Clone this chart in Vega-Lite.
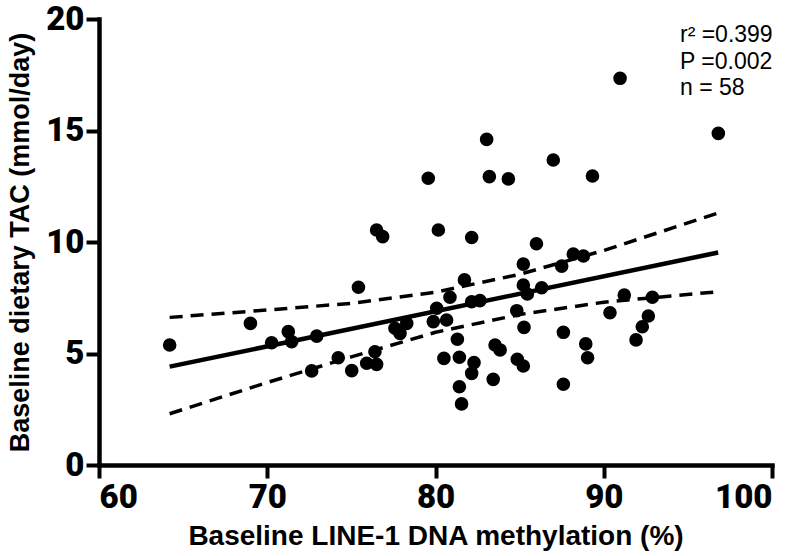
{
  "$schema": "https://vega.github.io/schema/vega-lite/v6.json",
  "width": 673,
  "height": 446,
  "autosize": {"type": "none"},
  "padding": {"left": 99, "top": 19, "right": 28, "bottom": 91},
  "background": "white",
  "config": {
    "view": {"stroke": null},
    "font": "Liberation Sans",
    "axis": {
      "grid": false,
      "domainColor": "black",
      "domainWidth": 4.5,
      "domainCap": "square",
      "tickColor": "black",
      "tickWidth": 4,
      "tickSize": 13,
      "labelColor": "black",
      "titleColor": "black"
    }
  },
  "datasets": {
    "points": [
      {"x": 64.2, "y": 5.38}, {"x": 69.0, "y": 6.35}, {"x": 70.26, "y": 5.48}, {"x": 71.25, "y": 5.98},
      {"x": 71.45, "y": 5.53}, {"x": 72.94, "y": 5.78}, {"x": 72.64, "y": 4.22}, {"x": 74.22, "y": 4.81},
      {"x": 75.02, "y": 4.23}, {"x": 75.42, "y": 7.97}, {"x": 75.91, "y": 4.56}, {"x": 76.4, "y": 5.08},
      {"x": 76.5, "y": 4.51}, {"x": 76.5, "y": 10.54}, {"x": 76.86, "y": 10.24}, {"x": 77.59, "y": 6.13},
      {"x": 77.89, "y": 5.9}, {"x": 78.29, "y": 6.35},
      {"x": 90.97, "y": 17.34}, {"x": 96.81, "y": 14.87}, {"x": 83.04, "y": 14.6}, {"x": 79.57, "y": 12.86},
      {"x": 83.2, "y": 12.93}, {"x": 84.33, "y": 12.83}, {"x": 87.0, "y": 13.68}, {"x": 89.33, "y": 12.96},
      {"x": 80.17, "y": 10.54}, {"x": 91.22, "y": 7.62}, {"x": 92.89, "y": 7.52}, {"x": 92.65, "y": 6.68},
      {"x": 92.29, "y": 6.2}, {"x": 91.92, "y": 5.61},
      {"x": 82.15, "y": 10.2}, {"x": 86.0, "y": 9.92}, {"x": 88.19, "y": 9.46}, {"x": 88.79, "y": 9.37},
      {"x": 87.5, "y": 8.92}, {"x": 85.22, "y": 9.01}, {"x": 81.72, "y": 8.3}, {"x": 80.86, "y": 7.52},
      {"x": 82.15, "y": 7.32}, {"x": 82.64, "y": 7.37}, {"x": 85.22, "y": 8.07}, {"x": 85.46, "y": 7.67},
      {"x": 86.31, "y": 7.95}, {"x": 80.07, "y": 7.03}, {"x": 79.87, "y": 6.43}, {"x": 80.66, "y": 6.5},
      {"x": 84.83, "y": 6.92}, {"x": 90.37, "y": 6.83}, {"x": 85.26, "y": 6.17}, {"x": 87.6, "y": 5.95},
      {"x": 81.3, "y": 5.64}, {"x": 83.54, "y": 5.38}, {"x": 83.84, "y": 5.16}, {"x": 88.93, "y": 5.43},
      {"x": 89.04, "y": 4.81}, {"x": 80.5, "y": 4.78}, {"x": 81.42, "y": 4.83}, {"x": 82.29, "y": 4.59},
      {"x": 82.15, "y": 4.11}, {"x": 84.86, "y": 4.74}, {"x": 85.22, "y": 4.44}, {"x": 83.43, "y": 3.84},
      {"x": 81.42, "y": 3.51}, {"x": 81.55, "y": 2.74}, {"x": 87.6, "y": 3.62}
    ],
    "fit": [
      {"x": 64.2, "y": 4.41}, {"x": 96.8, "y": 9.53}
    ],
    "band": [
      {"x": 64.2, "y": 6.62, "bound": "upper"}, {"x": 70, "y": 6.95, "bound": "upper"},
      {"x": 75, "y": 7.25, "bound": "upper"}, {"x": 80, "y": 7.75, "bound": "upper"},
      {"x": 85, "y": 8.55, "bound": "upper"}, {"x": 90, "y": 9.62, "bound": "upper"},
      {"x": 96.8, "y": 11.3, "bound": "upper"},
      {"x": 64.2, "y": 2.3, "bound": "lower"}, {"x": 70, "y": 3.7, "bound": "lower"},
      {"x": 75, "y": 4.85, "bound": "lower"}, {"x": 80, "y": 5.95, "bound": "lower"},
      {"x": 85, "y": 6.75, "bound": "lower"}, {"x": 90, "y": 7.3, "bound": "lower"},
      {"x": 96.8, "y": 7.77, "bound": "lower"}
    ],
    "stats": [
      {"x": 94.53, "y": 19.28, "label": "r² =0.399"},
      {"x": 94.53, "y": 18.07, "label": "P =0.002"},
      {"x": 94.53, "y": 16.9, "label": "n = 58"}
    ]
  },
  "encoding": {
    "x": {
      "field": "x", "type": "quantitative",
      "scale": {"domain": [60, 100], "nice": false, "zero": false},
      "axis": {
        "values": [60, 70, 80, 90, 100],
        "title": "Baseline LINE-1 DNA methylation (%)",
        "titleFont": "Liberation Sans", "titleFontWeight": "bold", "titleFontSize": 28, "titlePadding": 8,
        "labelFont": "Roboto", "labelFontWeight": 900, "labelFontSize": 33, "labelPadding": 3
      }
    },
    "y": {
      "field": "y", "type": "quantitative",
      "scale": {"domain": [0, 20], "nice": false, "zero": false},
      "axis": {
        "values": [0, 5, 10, 15, 20],
        "title": "Baseline dietary TAC (mmol/day)",
        "titleFont": "Liberation Sans", "titleFontWeight": "bold", "titleFontSize": 27, "titlePadding": 11,
        "labelFont": "Roboto", "labelFontWeight": 900, "labelFontSize": 33, "labelPadding": 2
      }
    }
  },
  "layer": [
    {
      "data": {"name": "band"},
      "mark": {"type": "line", "color": "black", "strokeWidth": 3.5, "strokeDash": [13, 8]},
      "encoding": {"detail": {"field": "bound"}}
    },
    {
      "data": {"name": "fit"},
      "mark": {"type": "line", "color": "black", "strokeWidth": 4.5},
      "encoding": {}
    },
    {
      "data": {"name": "points"},
      "mark": {"type": "circle", "color": "black", "opacity": 1, "size": 185}
    },
    {
      "data": {"name": "stats"},
      "mark": {"type": "text", "align": "left", "baseline": "middle", "fontSize": 23, "font": "Liberation Sans", "color": "black"},
      "encoding": {"text": {"field": "label"}}
    }
  ]
}
